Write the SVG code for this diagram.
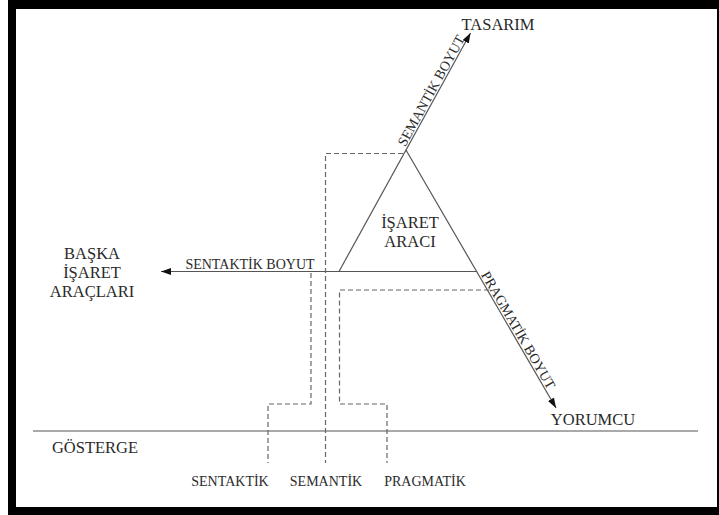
<svg xmlns="http://www.w3.org/2000/svg" width="719" height="515" viewBox="0 0 719 515">
<defs>
<style>
text{font-family:"Liberation Serif","Times New Roman",serif;fill:#2a2a2a}
.lbl{font-size:16.5px}
.sm{font-size:14px}
.ln{stroke:#555;stroke-width:1.2;fill:none}
.ds{stroke:#666;stroke-width:1.2;fill:none;stroke-dasharray:5 3}
</style>
<marker id="ah" markerUnits="userSpaceOnUse" markerWidth="11" markerHeight="8" refX="10" refY="3.5" orient="auto">
<path d="M0,0 L10,3.5 L0,7 z" fill="#111"/>
</marker>
</defs>
<rect x="0" y="0" width="719" height="515" fill="#fff"/>
<rect x="8" y="0" width="711" height="515" fill="#000"/>
<rect x="16" y="9" width="701" height="498" fill="#fff"/>

<g id="connectors">
<line class="ln" x1="339" y1="271.5" x2="470.5" y2="33" marker-end="url(#ah)"/>
<line class="ln" x1="406" y1="150" x2="556" y2="408" marker-end="url(#ah)"/>
<line class="ln" x1="476.6" y1="271.5" x2="161" y2="271.5" marker-end="url(#ah)"/>
<line class="ln" x1="33" y1="431" x2="698" y2="431"/>
<polyline class="ds" points="403,153.5 325.5,153.5 325.5,463"/>
<polyline class="ds" points="311,273 311,404 268,404 268,463"/>
<polyline class="ds" points="489,290 339.5,290 339.5,404 387,404 387,463"/>
</g>

<g id="boyut-labels">
<text class="sm" text-anchor="middle" transform="translate(435.2,92.9) rotate(-61.1)">SEMANTİK BOYUT</text>
<text class="sm" text-anchor="middle" transform="translate(514.3,332.4) rotate(59.8)">PRAGMATİK BOYUT</text>
<text class="sm" x="250" y="269" text-anchor="middle">SENTAKTİK BOYUT</text>
</g>

<g id="tasarim"><text class="lbl" x="498" y="30" text-anchor="middle">TASARIM</text></g>
<g id="isaret-araci">
<text class="lbl" x="410" y="228" text-anchor="middle">İŞARET</text>
<text class="lbl" x="410" y="247" text-anchor="middle">ARACI</text>
</g>
<g id="baska">
<text class="lbl" x="92" y="259" text-anchor="middle">BAŞKA</text>
<text class="lbl" x="92" y="278" text-anchor="middle">İŞARET</text>
<text class="lbl" x="92" y="297" text-anchor="middle">ARAÇLARI</text>
</g>
<g id="yorumcu"><text class="lbl" x="593" y="425" text-anchor="middle">YORUMCU</text></g>
<g id="gosterge"><text class="lbl" x="95" y="452.5" text-anchor="middle">GÖSTERGE</text></g>
<g id="sentaktik"><text class="sm" x="230" y="486" text-anchor="middle">SENTAKTİK</text></g>
<g id="semantik"><text class="sm" x="326" y="486" text-anchor="middle">SEMANTİK</text></g>
<g id="pragmatik"><text class="sm" x="425" y="486" text-anchor="middle">PRAGMATİK</text></g>
</svg>
